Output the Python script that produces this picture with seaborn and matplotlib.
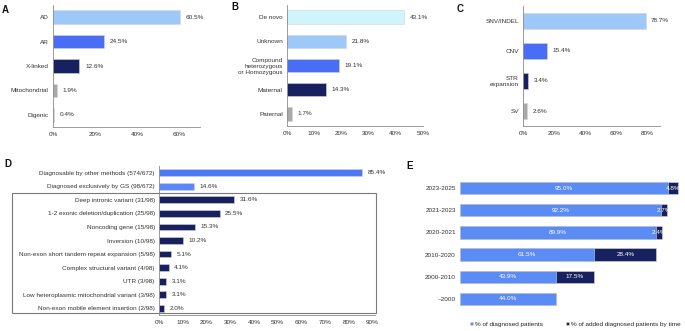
import matplotlib
matplotlib.use("Agg")
import matplotlib.pyplot as plt
import seaborn as sns
import pandas as pd
from matplotlib.patches import Rectangle
from matplotlib.transforms import blended_transform_factory

sns.set_theme(style="white")
plt.rcParams['font.family'] = ['Liberation Sans', 'DejaVu Sans']

# ---------------- data ----------------
A_cats = ["AD", "AR", "X-linked", "Mitochondrial", "Digenic"]
A_vals = [60.5, 24.5, 12.6, 1.9, 0.4]

B_cats = ["De novo", "Unknown", "Compound\nheterozygous\nor Homozygous", "Maternal", "Paternal"]
B_vals = [43.1, 21.8, 19.1, 14.3, 1.7]

C_cats = ["SNV/INDEL", "CNV", "STR\nexpansion", "SV"]
C_vals = [78.7, 15.4, 3.4, 2.6]

D_cats = ["Diagnosable by other methods (574/672)",
          "Diagnosed exclusively by GS (98/672)",
          "Deep intronic variant (31/98)",
          "1-2 exonic deletion/duplication (25/98)",
          "Noncoding gene (15/98)",
          "Inversion (10/98)",
          "Non-exon short tandem repeat expansion (5/98)",
          "Complex structural variant (4/98)",
          "UTR (3/98)",
          "Low heteroplasmic mitochondrial variant (3/98)",
          "Non-exon mobile element insertion (2/98)"]
D_vals = [85.4, 14.6, 31.6, 25.5, 15.3, 10.2, 5.1, 4.1, 3.1, 3.1, 2.0]

E_periods = ["2023-2025", "2021-2023", "2020-2021", "2010-2020", "2000-2010", "~2000"]
E_diag = [95.0, 92.2, 89.9, 61.5, 43.9, 44.0]
E_added = [4.8, 2.7, 2.4, 28.4, 17.5, 0.0]
E_labels = ["% of diagnosed patients", "% of added diagnosed patients by time"]

# ---------------- styles ----------------
LIGHT = "#9EC8F7"
BRIGHT = "#4A6DF5"
NAVY = "#17215F"
GREY = "#A9A9A9"
CYAN = "#CFF4FC"
D1 = "#4D78F4"
D2 = "#5A88F5"
EBLUE = "#5B8CF6"
FS = 4.6
SPINE = "#8a8a8a"

W, H = 685, 331
fig = plt.figure(figsize=(W / 100, H / 100), dpi=100)


def axes_px(l, r, t, b):
    return fig.add_axes([l / W, (H - b) / H, (r - l) / W, (b - t) / H])


def style(ax, xmax, step):
    ax.set_xlim(0, xmax)
    ticks = list(range(0, int(xmax) + 1, step))
    ax.set_xticks(ticks)
    ax.set_xticklabels([f"{t}%" for t in ticks])
    ax.set_xlabel("")
    ax.set_ylabel("")
    for s in ["top", "right"]:
        ax.spines[s].set_visible(False)
    for s in ["left", "bottom"]:
        ax.spines[s].set_color(SPINE)
        ax.spines[s].set_linewidth(0.6)
    ax.tick_params(axis="x", labelsize=FS, length=2, width=0.5, color=SPINE, pad=1.5, colors="#333333")
    ax.tick_params(axis="y", labelsize=FS, length=0, pad=3, colors="#333333")
    for t in ax.get_xticklabels():
        t.set_color("#333333")


def hbar(ax, cats, vals, colors, width):
    df = pd.DataFrame({"cat": cats, "val": vals})
    sns.barplot(data=df, x="val", y="cat", hue="cat", palette=colors, legend=False,
                ax=ax, width=width, edgecolor="#d4d4d4", linewidth=0.4, orient="h",
                saturation=1)
    for cont, v in zip(ax.containers, vals):
        ax.bar_label(cont, labels=[f"{v:.1f}%"], padding=4, fontsize=FS, color="#333333")


# Panel A
axA = axes_px(53, 200, 5, 127)
hbar(axA, A_cats, A_vals, [LIGHT, BRIGHT, NAVY, GREY, LIGHT], 0.55)
style(axA, 70, 20)

# Panel B
axB = axes_px(287, 423, 5, 126)
hbar(axB, B_cats, B_vals, [CYAN, LIGHT, BRIGHT, NAVY, GREY], 0.55)
style(axB, 50, 10)

# Panel C
axC = axes_px(523, 660, 6, 126)
hbar(axC, C_cats, C_vals, [LIGHT, BRIGHT, NAVY, GREY], 0.55)
style(axC, 88, 20)

# Panel D
axD = axes_px(159, 375, 166, 315)
hbar(axD, D_cats, D_vals, [D1, D2] + [NAVY] * 9, 0.5)
style(axD, 91, 10)
trD = blended_transform_factory(axD.transAxes, axD.transData)
axD.add_patch(Rectangle((-0.68, 1.5), 1.685, 8.87, transform=trD, fill=False,
                        edgecolor="#7a7a7a", linewidth=0.8, clip_on=False))

# Panel E
axE = axes_px(460, 685, 177, 310)
E_total = [d + a for d, a in zip(E_diag, E_added)]
dfE = pd.DataFrame({"period": E_periods, "diag": E_diag, "total": E_total})
sns.barplot(data=dfE, x="total", y="period", color=NAVY, ax=axE, width=0.55,
            edgecolor="#d4d4d4", linewidth=0.4, orient="h", label=E_labels[1], saturation=1)
sns.barplot(data=dfE, x="diag", y="period", color=EBLUE, ax=axE, width=0.55,
            edgecolor="#d4d4d4", linewidth=0.4, orient="h", label=E_labels[0], saturation=1)
for i, (d, a) in enumerate(zip(E_diag, E_added)):
    axE.text(d / 2, i, f"{d:.1f}%", ha="center", va="center", fontsize=FS, color="white")
    if a > 0:
        axE.text(d + a / 2, i, f"{a:.1f}%", ha="center", va="center", fontsize=FS, color="white")
axE.set_xlim(0, 103)
axE.set_xticks([])
axE.set_xlabel("")
axE.set_ylabel("")
for s in axE.spines.values():
    s.set_visible(False)
axE.tick_params(axis="y", labelsize=FS, length=0, pad=3, colors="#333333")
handles, labels = axE.get_legend_handles_labels()
order = [labels.index(E_labels[0]), labels.index(E_labels[1])]
axE.legend([handles[i] for i in order], [labels[i] for i in order],
           loc="upper left", bbox_to_anchor=(0.045, -0.09), ncol=2, frameon=False,
           fontsize=FS, handlelength=0.45, handleheight=0.45, handletextpad=0.3,
           columnspacing=3.6, borderaxespad=0, borderpad=0)

# Panel letters
for letter, x, y in [("A", 2, 10), ("B", 231, 7), ("C", 457, 9), ("D", 4, 164), ("E", 406, 166)]:
    fig.text(x / W, 1 - y / H, letter, fontsize=7, fontweight="bold", va="center", ha="left",
             color="#111111")

fig.savefig("out.png", dpi=100)
